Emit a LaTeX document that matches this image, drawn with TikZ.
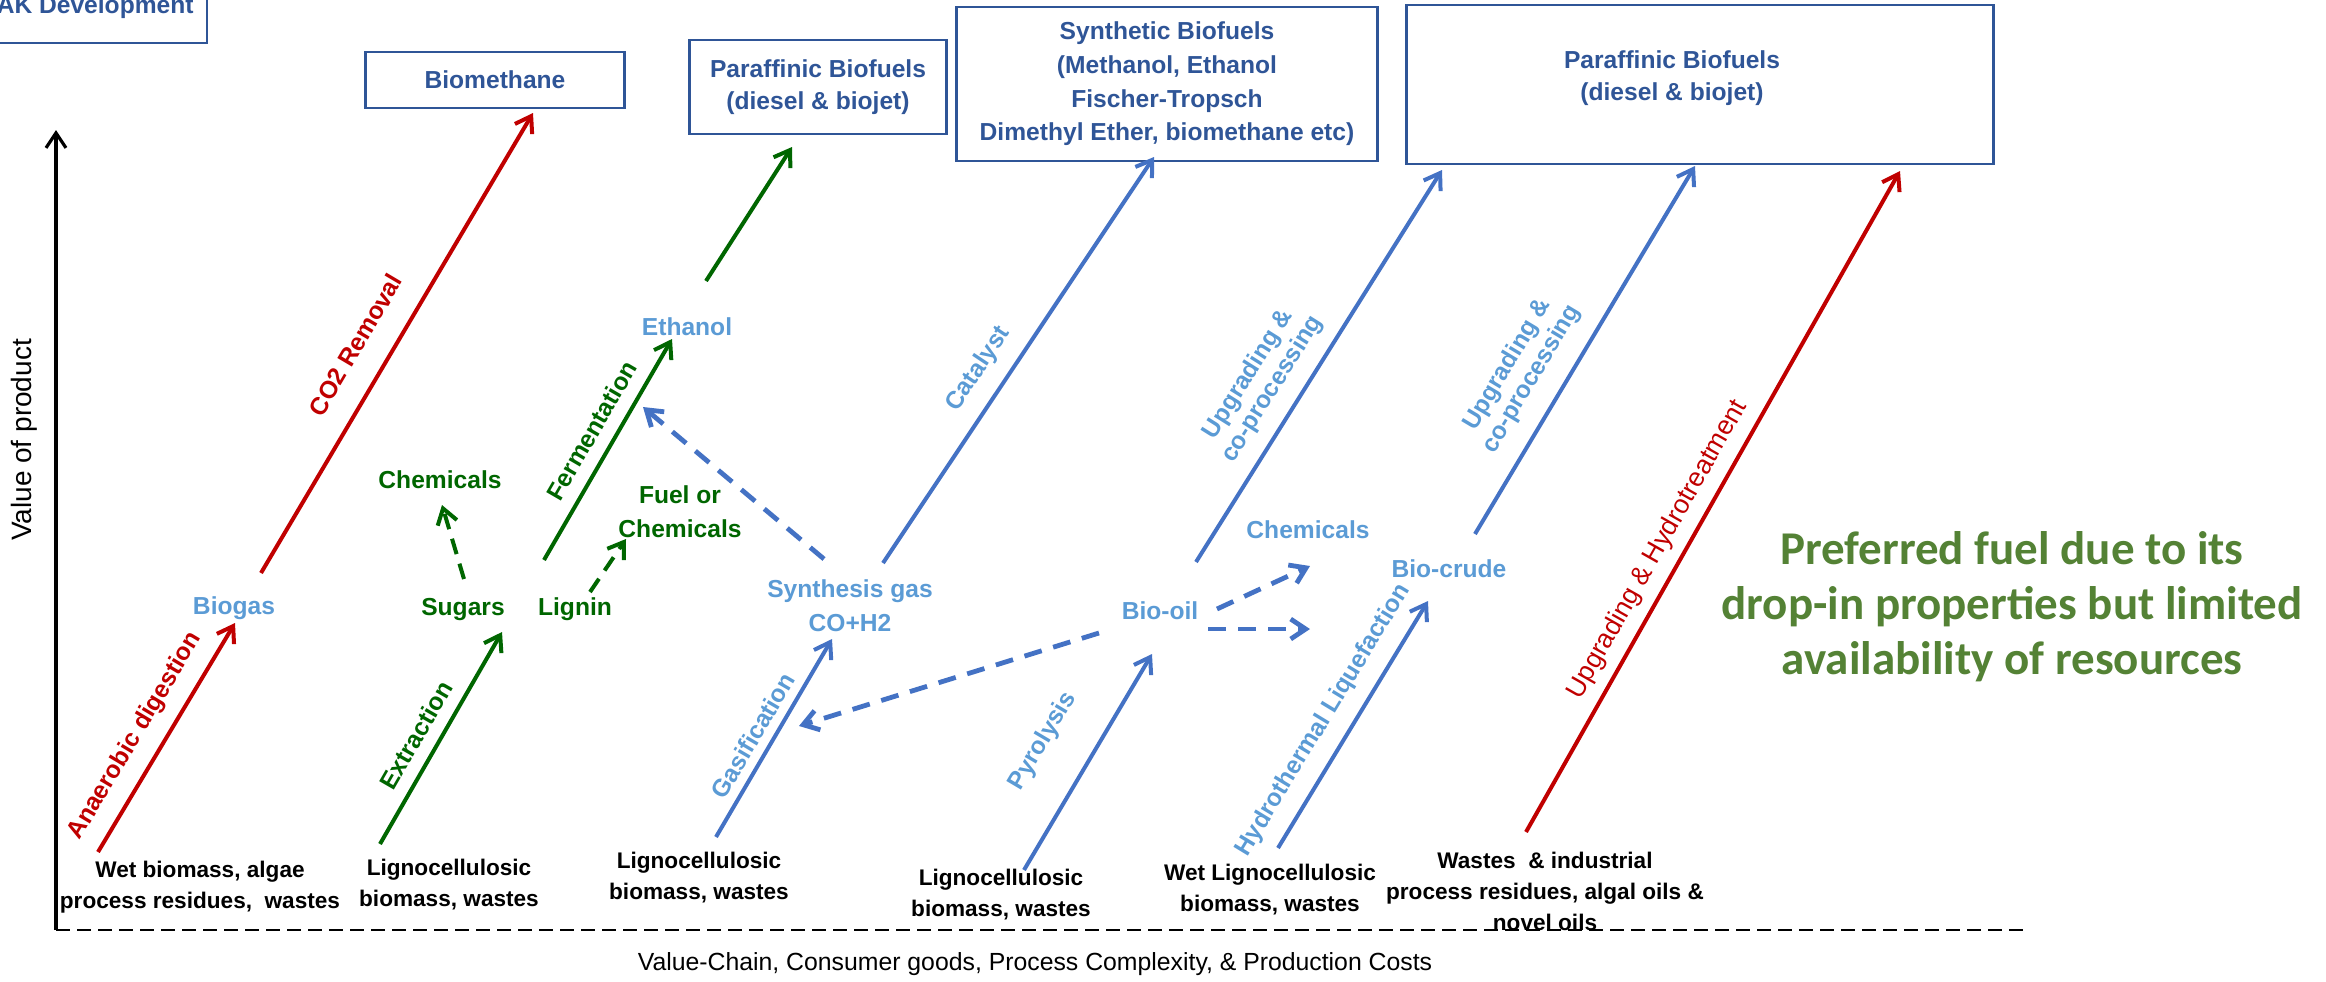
\documentclass[tikz,border=0pt]{standalone}
\usepackage{fontspec}
\setmainfont{Liberation Sans}
\newfontfamily\calfont{Carlito}
\usetikzlibrary{arrows.meta}
\definecolor{boxblue}{RGB}{47,85,151}
\definecolor{lineblue}{RGB}{68,114,196}
\definecolor{textblue}{RGB}{91,155,213}
\definecolor{darkred}{RGB}{192,0,0}
\definecolor{darkgreen}{RGB}{0,102,0}
\definecolor{olivegreen}{RGB}{84,130,53}

\begin{document}
\begin{tikzpicture}[x=0.5pt, y=-0.5pt,
    every node/.style={inner sep=0pt},
    box/.style={draw=boxblue, line width=1.3pt, text=boxblue, font=\fontsize{12.3}{16}\selectfont\bfseries, align=center},
    prod/.style={font=\fontsize{12.3}{17}\selectfont\bfseries, align=center},
    feed/.style={font=\fontsize{11.3}{15.5}\selectfont\bfseries, align=center, anchor=north},
    route/.style={font=\fontsize{12.3}{14}\selectfont\bfseries, sloped, align=center},
    arrowtip/.style={-{Straight Barb[length=7.5pt, width=10pt]}},
    redline/.style={arrowtip, draw=darkred, line width=2pt},
    greenline/.style={arrowtip, draw=darkgreen, line width=2pt},
    blueline/.style={arrowtip, draw=lineblue, line width=2pt},
    greendash/.style={greenline, dash pattern=on 8pt off 5pt},
    bluedash/.style={blueline, line width=2.4pt, dash pattern=on 9pt off 6pt}]

  \useasboundingbox (0,0) rectangle (2326,981);
  \clip (0,0) rectangle (2326,981);

  \draw[draw=boxblue, line width=1.3pt] (-40,-40) rectangle (207,43);
  \node[text=boxblue, font=\fontsize{12.3}{16}\selectfont\bfseries, anchor=base east] (ak) at (194,13) {AK Development};
  \node[box, minimum width=129.5pt, minimum height=28pt] (biomethane) at (495,80) {Biomethane};
  \node[box, minimum width=128.5pt, minimum height=47pt] (parafone) at (818,87) {Paraffinic Biofuels\\(diesel \& biojet)};
  \node[box, minimum width=210.5pt, minimum height=77pt, font=\fontsize{12.3}{16.8}\selectfont\bfseries] (synthetic) at (1167,84) {Synthetic Biofuels\\(Methanol, Ethanol\\Fischer-Tropsch\\Dimethyl Ether, biomethane etc)};
  \node[box, minimum width=293.5pt, minimum height=79.5pt] (paraftwobox) at (1700,84.5) {};
  \node[text=boxblue, font=\fontsize{12.3}{16}\selectfont\bfseries, align=center] (paraftwo) at (1672,78) {Paraffinic Biofuels\\(diesel \& biojet)};

  \draw[line width=1.6pt, -{Straight Barb[length=7.5pt, width=10pt]}] (56,930) -- (56,130);
  \draw[line width=1.3pt, dash pattern=on 7pt off 3.5pt] (56,930) -- (2030,930);
  \node[font=\fontsize{14}{14}\selectfont, rotate=90] (ylabel) at (24,440) {Value of product};
  \node[font=\fontsize{12.4}{13}\selectfont, anchor=base] (xlabel) at (1035,970) {Value-Chain, Consumer goods, Process Complexity, \& Production Costs};

  \node[feed] (wet) at (200,861) {Wet biomass, algae\\process residues,~ wastes};
  \node[feed] (lignoone) at (449,859) {Lignocellulosic\\biomass, wastes};
  \node[feed] (lignotwo) at (699,852) {Lignocellulosic\\biomass, wastes};
  \node[feed] (lignothree) at (1001,869) {Lignocellulosic\\biomass, wastes};
  \node[feed] (wetligno) at (1270,864) {Wet Lignocellulosic\\biomass, wastes};
  \node[feed] (wastes) at (1545,852) {Wastes~ \& industrial\\process residues, algal oils \&\\novel oils};

  \node[prod, text=textblue, anchor=base] (biogas) at (234,614) {Biogas};
  \node[prod, text=darkgreen, anchor=base] (sugars) at (463,615) {Sugars};
  \node[prod, text=darkgreen, anchor=base] (lignin) at (575,615) {Lignin};
  \node[prod, text=darkgreen, anchor=base] (chemgreen) at (440,488) {Chemicals};
  \node[prod, text=darkgreen, anchor=north] (fuel) at (680,485) {Fuel or\\Chemicals};
  \node[prod, text=textblue, anchor=base] (ethanol) at (687,335) {Ethanol};
  \node[prod, text=textblue, anchor=north] (syngas) at (850,579) {Synthesis gas\\CO+H2};
  \node[prod, text=textblue, anchor=base] (biooil) at (1160,619) {Bio-oil};
  \node[prod, text=textblue, anchor=base] (chemblue) at (1308,538) {Chemicals};
  \node[prod, text=textblue, anchor=base] (biocrude) at (1449,577) {Bio-crude};

  \node[font=\calfont\bfseries\fontsize{23.5}{27.5}\selectfont, text=olivegreen, align=center, anchor=north] (preferred) at (2012,531) {Preferred fuel due to its\\drop-in properties but limited\\availability of resources};

  \coordinate (ad0) at (98,852);    \coordinate (ad1) at (235,623);
  \coordinate (co0) at (261,573);   \coordinate (co1) at (533,113);
  \coordinate (ex0) at (380,844);   \coordinate (ex1) at (502,632);
  \coordinate (fe0) at (544,560);   \coordinate (fe1) at (672,339);
  \coordinate (et0) at (706,281);   \coordinate (et1) at (792,147);
  \coordinate (ga0) at (716,837);   \coordinate (ga1) at (832,639);
  \coordinate (ca0) at (883,563);   \coordinate (ca1) at (1154,157);
  \coordinate (py0) at (1024,870);  \coordinate (py1) at (1152,654);
  \coordinate (up0) at (1196,562);  \coordinate (up1) at (1442,170);
  \coordinate (ht0) at (1278,848);  \coordinate (ht1) at (1428,601);
  \coordinate (uq0) at (1475,534);  \coordinate (uq1) at (1695,166);
  \coordinate (hy0) at (1526,832);  \coordinate (hy1) at (1900,171);
  \coordinate (sc0) at (464,579);   \coordinate (sc1) at (442,505);
  \coordinate (lf0) at (590,592);   \coordinate (lf1) at (626,539);
  \coordinate (se0) at (824,559);   \coordinate (se1) at (643,407);
  \coordinate (bs0) at (1099,633);  \coordinate (bs1) at (799,726);
  \coordinate (bc0) at (1217,609);  \coordinate (bc1) at (1310,566);
  \coordinate (br0) at (1208,629);  \coordinate (br1) at (1310,629);

  \draw[redline] (ad0) -- node[route, text=darkred, pos=0.444, above=7pt] (adlabel) {Anaerobic digestion} (ad1);
  \draw[redline] (co0) -- node[route, text=darkred, pos=0.457, above=12pt] (colabel) {CO2 Removal} (co1);
  \draw[greenline] (ex0) -- node[route, text=darkgreen, pos=0.459, above=6pt] (exlabel) {Extraction} (ex1);
  \draw[greenline] (fe0) -- node[route, text=darkgreen, pos=0.533, above=6.4pt] (felabel) {Fermentation} (fe1);
  \draw[greenline] (et0) -- (et1);
  \draw[blueline] (ga0) -- node[route, text=textblue, pos=0.463, above=4.2pt] (galabel) {Gasification} (ga1);
  \draw[blueline] (ca0) -- node[route, text=textblue, pos=0.439, above=7.5pt] (calabel) {Catalyst} (ca1);
  \draw[blueline] (py0) -- node[route, text=textblue, pos=0.48, above=17.9pt] (pylabel) {Pyrolysis} (py1);
  \draw[blueline] (up0) -- node[route, text=textblue, pos=0.404, above=6.7pt] (uplabel) {Upgrading \&\\co-processing} (up1);
  \draw[blueline] (ht0) -- node[route, text=textblue, pos=0.46, above=7pt] (htlabel) {Hydrothermal Liquefaction} (ht1);
  \draw[blueline] (uq0) -- node[route, text=textblue, pos=0.378, above=8.6pt] (uqlabel) {Upgrading \&\\co-processing} (uq1);
  \draw[redline] (hy0) -- node[route, text=darkred, font=\fontsize{13.3}{14}\selectfont, pos=0.409, above=5pt] (hylabel) {Upgrading \& Hydrotreatment} (hy1);

  \draw[greendash] (sc0) -- (sc1);
  \draw[greendash] (lf0) -- (lf1);
  \draw[bluedash] (se0) -- (se1);
  \draw[bluedash] (bs0) -- (bs1);
  \draw[bluedash] (bc0) -- (bc1);
  \draw[bluedash] (br0) -- (br1);

\end{tikzpicture}
\end{document}
